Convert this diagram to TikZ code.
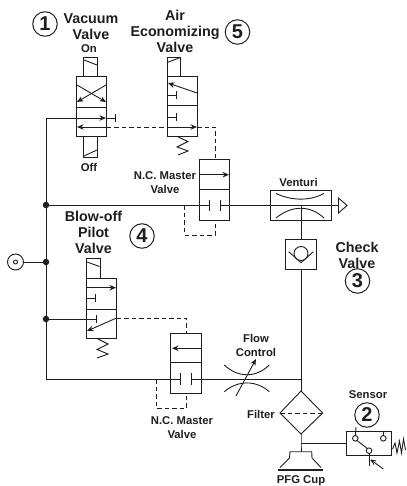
\documentclass[tikz,border=0pt]{standalone}
\usepackage{fontspec}
\setmainfont{Liberation Sans}[Scale=1]
\usetikzlibrary{arrows.meta}
\definecolor{ink}{HTML}{1E1E1E}
\tikzset{
  ln/.style={draw=ink,line width=0.9pt},
  thin box/.style={draw=ink,line width=0.9pt,fill=none},
  dsh/.style={draw=ink,line width=0.9pt,dash pattern=on 4.5pt off 3pt},
  arr/.style={draw=ink,line width=0.9pt,-{Stealth[length=6.5pt,width=5.5pt]}},
  dot/.style={circle,fill=ink,inner sep=0pt,minimum size=6.5pt},
  big/.style={font=\fontsize{14.3}{16}\bfseries,text=ink,align=center,inner sep=0pt},
  small/.style={font=\fontsize{11.3}{14}\bfseries,text=ink,align=center,inner sep=0pt},
  num/.style={circle,draw=ink,line width=1pt,inner sep=0pt,minimum size=24.5pt,font=\fontsize{20}{20}\bfseries,text=ink},
}
\begin{document}
\begin{tikzpicture}[x=1pt,y=-1pt]
\useasboundingbox (0,0) rectangle (406,486);
% labels
\node[num] (n1) at (45,24) {1};
\node[big] (t1) at (91,26.5) {Vacuum\\Valve};
\node[big] (t5) at (175,31.5) {Air\\Economizing\\Valve};
\node[num] (n5) at (237.5,32) {5};
\node[small] (ton) at (89,49) {On};
\node[small] (toff) at (89,167) {Off};
\node[small] (tnc1) at (165,183) {N.C. Master\\Valve};
\node[small] (tv) at (298.5,182) {Venturi};
\node[big] (t4) at (93.5,232) {Blow-off\\Pilot\\Valve};
\node[num] (n4) at (142,236) {4};
\node[big] (t3) at (357,255) {Check\\Valve};
\node[num] (n3) at (357.5,281) {3};
\node[small] (tfc) at (256,345) {Flow\\Control};
\node[small] (tf) at (261,414) {Filter};
\node[small] (tnc2) at (182,428) {N.C. Master\\Valve};
\node[small] (ts) at (368,395) {Sensor};
\node[num] (n2) at (367,415) {2};
\node[small] (tc) at (301,481) {PFG Cup};
% named anchors
\node[dot] (d1) at (46,205) {};
\node[dot] (d2) at (46,262) {};
\node[dot] (d3) at (46,319) {};
\coordinate (rt) at (46,118);
\coordinate (rb) at (46,379);
\coordinate (jn) at (301,379);
% vacuum valve
\draw[thin box] (83.5,57) rectangle (97.5,76.5);
\draw[ln] (84,60) -- (97,65);
\draw[thin box] (76,76.5) rectangle (106.5,136.5);
\draw[ln] (76,107.5) -- (106.5,107.5);
\draw[thin box] (83.5,136.5) rectangle (97.5,157);
\draw[ln] (84,156) -- (97,150);
\draw[arr] (106,85) -- (77,102);
\draw[arr] (77,85) -- (106,102);
% rail
\draw[ln] (rt) -- (d1) -- (d2) -- (d3) -- (rb);
\draw[arr] (rt) -- (106,118);
\draw[ln] (106,118) -- (115,118);
\draw[ln] (115,114) -- (115,122);
\draw[arr] (106.5,127) -- (77,127);
% dashed pilot
\draw[dsh] (106.5,127) -- (167.5,127);
\draw[arr] (167.5,127) -- (197,127);
\draw[dsh] (197,127) -- (215,127) -- (215,159.5);
% air valve
\draw[thin box] (167,57) rectangle (180.5,76);
\draw[ln] (167,62.5) -- (180.5,57.5);
\draw[thin box] (167.5,76) rectangle (197,136.5);
\draw[ln] (167.5,105) -- (197,105);
\draw[arr] (197,93) -- (168,83);
\draw[ln] (167.5,95) -- (176.5,95);
\draw[ln] (176.5,91) -- (176.5,99);
\draw[ln] (167.5,117) -- (176.5,117);
\draw[ln] (176.5,113) -- (176.5,121);
\draw[ln] (178,137) -- (188,141.5) -- (177,147) -- (188,151) -- (178,155);
% upper master
\draw[thin box] (199.5,159.5) rectangle (229.5,220.5);
\draw[ln] (199.5,189.5) -- (229.5,189.5);
\draw[arr] (199.5,174.7) -- (229,174.7);
\draw[ln] (d1) -- (209,205);
\draw[ln] (209,200) -- (209,211);
\draw[ln] (220,200) -- (220,211);
\draw[ln] (220,205) -- (338.5,205);
\draw[dsh] (184.5,205) -- (184.5,235) -- (215,235) -- (215,220.5);
% venturi
\draw[thin box] (270,190) rectangle (331.7,220.7);
\draw[ln] (276,193.5) .. controls (292,201) and (310,201) .. (324,193.5);
\draw[ln] (276,218) .. controls (292,205) and (310,205) .. (324,218);
\draw[ln] (338.5,198) -- (347,205.5) -- (338.5,213) -- cycle;
\draw[ln] (301,206) -- (301,239);
% check valve
\draw[thin box] (285,239) rectangle (316,269.5);
\draw[ln] (301,253.5) circle (7);
\draw[ln] (288.7,251.7) -- (301,262.7) -- (313.3,251.7);
\draw[ln] (301,269.5) -- (jn);
% supply
\draw[ln] (15.5,262) circle (8);
\draw[ln] (15.5,262) circle (2);
\draw[ln] (23.5,262) -- (d2);
% blow-off
\draw[thin box] (86,258.5) rectangle (100,278);
\draw[ln] (87,262) -- (99.5,266.5);
\draw[thin box] (86.5,278) rectangle (116.5,338);
\draw[ln] (86.5,309) -- (116.5,309);
\draw[arr] (86.5,287.7) -- (116,287.7);
\draw[ln] (86.5,298) -- (95.5,298);
\draw[ln] (95.5,294) -- (95.5,302);
\draw[ln] (d3) -- (96,319);
\draw[ln] (96,315) -- (96,323);
\draw[arr] (116.5,318) -- (87,331);
\draw[dsh] (116.5,318) -- (186.5,318) -- (186.5,333.3);
\draw[ln] (98,339) -- (108,344) -- (97,349.5) -- (108,354) -- (97,358);
% lower master
\draw[thin box] (170.7,333.3) rectangle (201.3,393.3);
\draw[ln] (170.7,362.7) -- (201.3,362.7);
\draw[arr] (201.3,348.3) -- (172,348.3);
\draw[ln] (rb) -- (180,379);
\draw[ln] (180,373) -- (180,385);
\draw[ln] (191.7,373) -- (191.7,385);
\draw[ln] (191.7,379) -- (jn);
\draw[dsh] (156,379) -- (156,408) -- (186.7,408) -- (186.7,393.3);
% flow control
\draw[ln] (224.3,365) .. controls (238,378) and (256,378) .. (269.3,365);
\draw[ln] (224.3,391.7) .. controls (238,380) and (256,380) .. (269.3,391.7);
\draw[arr] (236,396) -- (256,359);
% filter
\draw[ln] (jn) -- (301,391);
\draw[thin box] (301,391) -- (322.7,413) -- (301,434) -- (280,413) -- cycle;
\draw[dsh] (280,413) -- (322.7,413);
\coordinate (tee) at (301,443);
\draw[ln] (301,434) -- (tee) -- (301,451.7);
\draw[ln] (tee) -- (346,443);
% cup
\draw[ln] (280,467.5) -- (289.5,458) -- (290,451.7) -- (311.7,451.7) -- (312,458) -- (321,467.5);
\draw[draw=ink,line width=2pt] (278,469.5) -- (323,469.5);
% sensor
\draw[thin box] (346,431.7) rectangle (391.7,455);
\draw[ln] (356,427) -- (355.5,435.5);
\draw[ln] (355.3,438.3) circle (2.8);
\draw[ln] (383.3,431.7) -- (383.3,435.5);
\draw[ln] (383.3,438.3) circle (2.8);
\draw[ln] (369,450.7) circle (2.8);
\draw[ln] (357,440.5) -- (367.3,448.5);
\draw[ln] (369,453.5) -- (369,465.7);
\draw[ln] (383.3,469) -- (371,460);
\draw[ln] (371,460) -- (376,461);
\draw[ln] (371,460) -- (374,464.5);
\draw[ln] (392.5,449) -- (395,443) -- (397,453) -- (399.5,441) -- (401.5,453) -- (403.5,439) -- (405.5,450);
\end{tikzpicture}
\end{document}
